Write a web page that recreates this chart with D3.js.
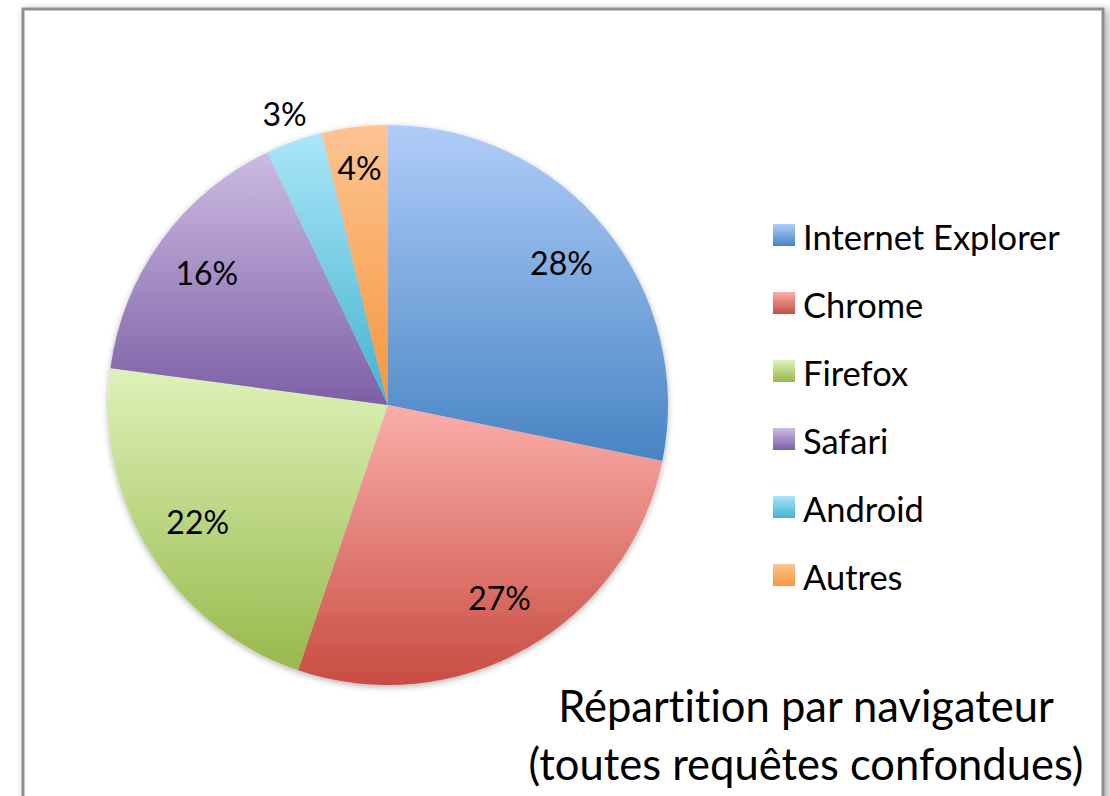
<!DOCTYPE html>
<html>
<head>
<meta charset="utf-8">
<script src="https://cdn.jsdelivr.net/npm/d3@7"></script>
<style>
  body { margin: 0; padding: 0; background: #fff; }
  svg { display: block; font-family: Lato, 'Open Sans', sans-serif; font-variant-ligatures: none; }
</style>
</head>
<body>
<div id="chart"></div>
<script>
// browser share (clockwise from 12 o'clock)
const browsers = ['Internet Explorer', 'Chrome', 'Firefox', 'Safari', 'Android', 'Autres']
const shares = [28.2, 27.0, 21.9, 15.8, 3.3, 3.8]
const titleLines = ['Répartition par navigateur', '(toutes requêtes confondues)']

// office style gradients, light on top, dark at bottom
const topColors = ['#b0cdf9', '#fbaeaa', '#def2b8', '#cdbbe2', '#abe6f8', '#fcc493']
const bottomColors = ['#4784c4', '#c84c42', '#98b94c', '#7d5fa6', '#44b3cf', '#f6963c']

const width = 1110
const height = 796
const cx = 388
const cy = 405
const radius = 280

const svg = d3.select('#chart').append('svg')
  .attr('width', width)
  .attr('height', height)

const defs = svg.append('defs')

const frameShadow = defs.append('filter').attr('id', 'frameShadow')
  .attr('x', '-5%').attr('y', '-5%').attr('width', '110%').attr('height', '110%')
frameShadow.append('feDropShadow')
  .attr('dx', 3).attr('dy', 2).attr('stdDeviation', 4)
  .attr('flood-color', '#000').attr('flood-opacity', 0.35)

const pieShadow = defs.append('filter').attr('id', 'pieShadow')
  .attr('x', '-10%').attr('y', '-10%').attr('width', '120%').attr('height', '120%')
pieShadow.append('feDropShadow')
  .attr('dx', 0).attr('dy', 2).attr('stdDeviation', 3)
  .attr('flood-color', '#000').attr('flood-opacity', 0.3)

browsers.forEach((b, i) => {
  const grad = defs.append('linearGradient')
    .attr('id', 'grad' + i)
    .attr('x1', 0).attr('y1', 0).attr('x2', 0).attr('y2', 1)
  grad.append('stop').attr('offset', '0%').attr('stop-color', topColors[i])
  grad.append('stop').attr('offset', '100%').attr('stop-color', bottomColors[i])
})

// frame
svg.append('rect')
  .attr('x', 23)
  .attr('y', 9)
  .attr('width', 1080)
  .attr('height', 830)
  .attr('fill', '#fff')
  .attr('stroke', '#8e8e8e')
  .attr('stroke-width', 3)
  .attr('filter', 'url(#frameShadow)')

// pie
const pie = d3.pie().sort(null).value(d => d)
const arcs = pie(shares)
const arc = d3.arc().innerRadius(0).outerRadius(radius)

const g = svg.append('g')
  .attr('transform', `translate(${cx},${cy})`)

g.append('g')
  .attr('filter', 'url(#pieShadow)')
  .selectAll('path')
  .data(arcs)
  .enter()
  .append('path')
  .attr('d', arc)
  .attr('fill', (d, i) => `url(#grad${i})`)

// labels: best fit, tiny slices go outside
const labelRadius = d => {
  if (d.data < 3.5) return radius * 1.1
  if (d.data < 5) return radius * 0.85
  return radius * 0.8
}

g.selectAll('text.pct')
  .data(arcs)
  .enter()
  .append('text')
  .attr('class', 'pct')
  .attr('x', d => labelRadius(d) * Math.sin((d.startAngle + d.endAngle) / 2))
  .attr('y', d => -labelRadius(d) * Math.cos((d.startAngle + d.endAngle) / 2))
  .attr('dy', '0.35em')
  .attr('text-anchor', 'middle')
  .style('font-size', '32px')
  .style('fill', '#000')
  .text(d => Math.round(d.data) + '%')

// legend
const legendY = d3.scalePoint()
  .domain(browsers)
  .range([235, 575])

const legend = svg.append('g')
  .selectAll('g')
  .data(browsers)
  .enter()
  .append('g')
  .attr('transform', d => `translate(773,${legendY(d)})`)

legend.append('rect')
  .attr('x', 0)
  .attr('y', -11)
  .attr('width', 22)
  .attr('height', 22)
  .attr('fill', (d, i) => `url(#grad${i})`)

legend.append('text')
  .attr('x', 30)
  .attr('y', 15)
  .style('font-size', '34.5px')
  .style('fill', '#000')
  .text(d => d)

// title
svg.append('g')
  .selectAll('text')
  .data(titleLines)
  .enter()
  .append('text')
  .attr('x', 806)
  .attr('y', (d, i) => 722 + i * 58)
  .attr('text-anchor', 'middle')
  .style('font-size', '43.5px')
  .style('fill', '#000')
  .text(d => d)
</script>
</body>
</html>
